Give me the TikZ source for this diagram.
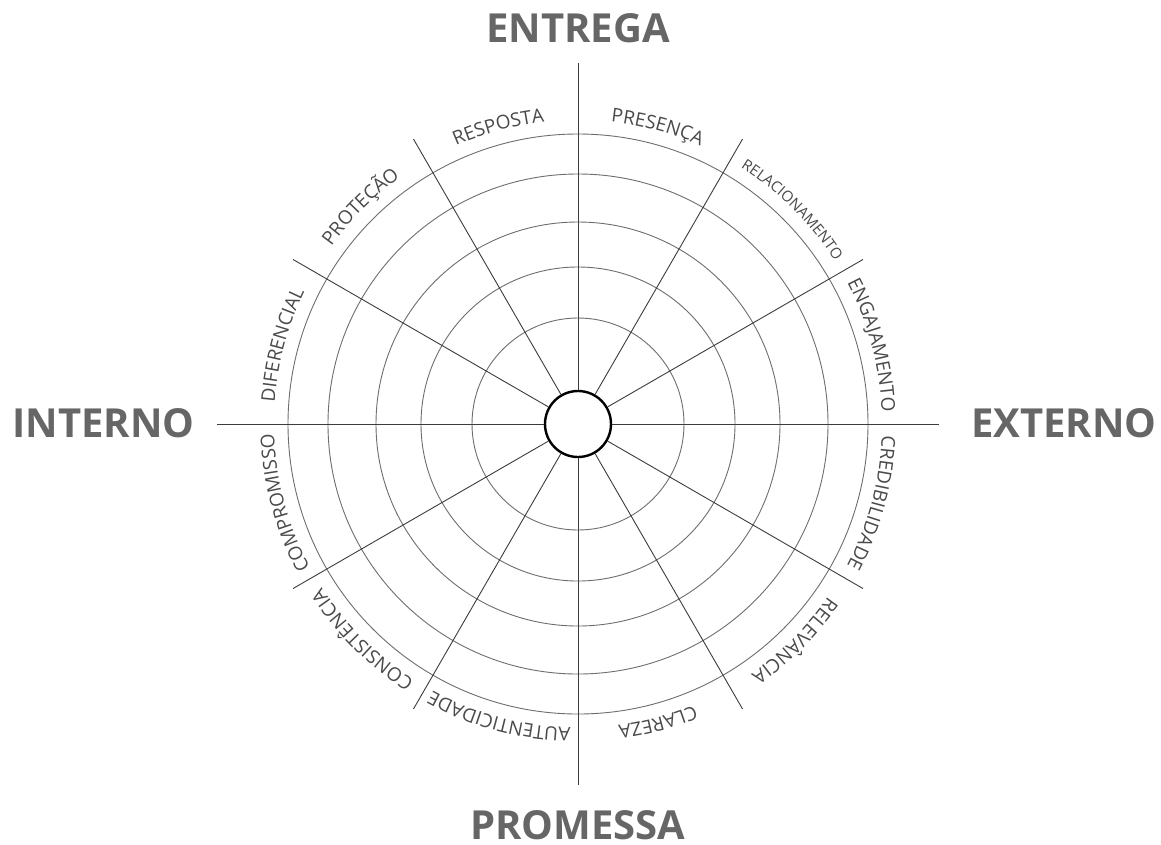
\documentclass[tikz,border=0pt]{standalone}
\usepackage{fontspec}
\setmainfont{Open Sans}
\usetikzlibrary{decorations.text}
\definecolor{biggray}{HTML}{666666}
\definecolor{labgray}{HTML}{4A4A4A}
\definecolor{spokegray}{HTML}{3C3C3C}
\definecolor{ringgray}{HTML}{6E6E6E}
\newcommand\labfont{\fontsize{19pt}{21pt}\selectfont\color{labgray}}
\newcommand\smlabfont{\fontsize{15pt}{17pt}\selectfont\color{labgray}}
\begin{document}
\begin{tikzpicture}[x=1pt,y=1pt,
  ring/.style={draw=ringgray, line width=0.9pt},
  spoke/.style={draw=spokegray, line width=0.9pt},
  axisline/.style={draw=spokegray, line width=0.9pt},
  big/.style={font=\fontsize{40pt}{44pt}\selectfont\bfseries, text=biggray, inner sep=0pt},
  hubstyle/.style={circle, draw=black, line width=2.4pt, minimum size=66pt, inner sep=0pt, fill=white},
  arclabel/.style={decorate, decoration={text along path, text align=center, text={#1}}}
]
\useasboundingbox (0,0) rectangle (1161,-844);
\fill[white] (0,0) rectangle (1161,-844);
\begin{scope}[shift={(578,-424)}]
  \foreach \r in {106,157,202,250,290} \draw[ring] (0,0) circle[radius=\r pt];
  \node[hubstyle] (hub) at (0,0) {};
  \foreach \a in {30,60,120,150,210,240,300,330} {
    \coordinate (s\a) at (\a:329pt);
    \draw[spoke] (hub.\a) -- (s\a);
  }
  \foreach \a in {0,90,180,270} {
    \coordinate (x\a) at (\a:361pt);
    \draw[axisline] (hub.\a) -- (x\a);
  }
  \path[arclabel={|\labfont|PRESENÇA}] (90:304pt) arc[start angle=90, end angle=60, radius=304pt];
  \path[arclabel={|\smlabfont|RELACIONAMENTO}] (60:304pt) arc[start angle=60, end angle=30, radius=304pt];
  \path[arclabel={|\labfont|ENGAJAMENTO}] (30:304pt) arc[start angle=30, end angle=0, radius=304pt];
  \path[arclabel={|\labfont|CREDIBILIDADE}] (0:304pt) arc[start angle=0, end angle=-30, radius=304pt];
  \path[arclabel={|\labfont|RELEVÂNCIA}] (-30:304pt) arc[start angle=-30, end angle=-60, radius=304pt];
  \path[arclabel={|\labfont|CLAREZA}] (-60:304pt) arc[start angle=-60, end angle=-90, radius=304pt];
  \path[arclabel={|\labfont|AUTENTICIDADE}] (-90:304pt) arc[start angle=-90, end angle=-120, radius=304pt];
  \path[arclabel={|\labfont|CONSISTÊNCIA}] (-120:304pt) arc[start angle=-120, end angle=-150, radius=304pt];
  \path[arclabel={|\labfont|COMPROMISSO}] (-150:304pt) arc[start angle=-150, end angle=-180, radius=304pt];
  \path[arclabel={|\labfont|DIFERENCIAL}] (180:304pt) arc[start angle=180, end angle=150, radius=304pt];
  \path[arclabel={|\labfont|PROTEÇÃO}] (150:304pt) arc[start angle=150, end angle=120, radius=304pt];
  \path[arclabel={|\labfont|RESPOSTA}] (120:304pt) arc[start angle=120, end angle=90, radius=304pt];
\end{scope}
\node[big] (entrega) at (578,-28.5) {ENTREGA};
\node[big] (promessa) at (578,-825) {PROMESSA};
\node[big] (interno) at (103.5,-423) {INTERNO};
\node[big] (externo) at (1064,-423) {EXTERNO};
\end{tikzpicture}
\end{document}
